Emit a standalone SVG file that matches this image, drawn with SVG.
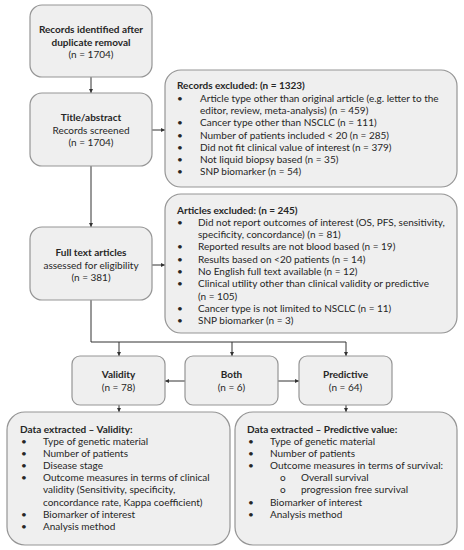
<svg xmlns="http://www.w3.org/2000/svg" width="464" height="550" viewBox="0 0 464 550">
<defs>
<marker id="ah" viewBox="0 0 6 6" refX="6" refY="3" markerWidth="4" markerHeight="4" orient="auto" markerUnits="userSpaceOnUse">
<path d="M0,0 L6,3 L0,6 z" fill="#333"/>
</marker>
<style>
.box{fill:#efefef;stroke:#959595;stroke-width:1.2}
text{font-family:Lato,"Liberation Sans",sans-serif;font-size:10px;fill:#262626}
.b{font-weight:bold}
.c{text-anchor:middle}
.ln{fill:none;stroke:#333;stroke-width:1}
.ar{fill:none;stroke:#333;stroke-width:1;marker-end:url(#ah)}
</style>
</defs>
<rect width="464" height="550" fill="#fff"/>
<g id="connectors">
<line class="ar" x1="91" y1="77" x2="91" y2="93"/>
<line class="ar" x1="152" y1="130" x2="165" y2="130"/>
<line class="ar" x1="91" y1="166" x2="91" y2="227"/>
<line class="ar" x1="152" y1="265" x2="165" y2="265"/>
<polyline class="ln" points="91,300 91,342 346,342"/>
<line class="ar" x1="119" y1="342" x2="119" y2="356"/>
<line class="ar" x1="232" y1="342" x2="232" y2="356"/>
<line class="ar" x1="346" y1="342" x2="346" y2="356"/>
<line class="ar" x1="185" y1="381" x2="165" y2="381"/>
<line class="ar" x1="278" y1="381" x2="299" y2="381"/>
<line class="ar" x1="119" y1="405" x2="119" y2="412"/>
<line class="ar" x1="346" y1="405" x2="346" y2="412"/>
</g>
<g id="identified">
<rect class="box" x="30" y="5" width="122" height="72" rx="12"/>
<text class="b c" x="91" y="33">Records identified after</text>
<text class="b c" x="91" y="46">duplicate removal</text>
<text class="c" x="91" y="58">(n = 1704)</text>
</g>
<g id="screened">
<rect class="box" x="30" y="93" width="122" height="73" rx="12"/>
<text class="b c" x="91" y="121">Title/abstract</text>
<text class="c" x="91" y="134">Records screened</text>
<text class="c" x="91" y="146">(n = 1704)</text>
</g>
<g id="fulltext">
<rect class="box" x="30" y="227" width="122" height="73" rx="12"/>
<text class="b c" x="91" y="256">Full text articles</text>
<text class="c" x="91" y="269">assessed for eligibility</text>
<text class="c" x="91" y="281">(n = 381)</text>
</g>
<g id="records-excluded">
<rect class="box" x="165" y="70" width="292" height="117" rx="16"/>
<text class="b" x="177" y="89">Records excluded: (n = 1323)</text>
<text x="177" y="102">•</text><text x="200" y="102">Article type other than original article (e.g. letter to the</text>
<text x="200" y="114.2">editor, review, meta-analysis) (n = 459)</text>
<text x="177" y="126.4">•</text><text x="200" y="126.4">Cancer type other than NSCLC (n = 111)</text>
<text x="177" y="138.6">•</text><text x="200" y="138.6">Number of patients included &lt; 20 (n = 285)</text>
<text x="177" y="150.8">•</text><text x="200" y="150.8">Did not fit clinical value of interest (n = 379)</text>
<text x="177" y="163">•</text><text x="200" y="163">Not liquid biopsy based (n = 35)</text>
<text x="177" y="175.2">•</text><text x="200" y="175.2">SNP biomarker (n = 54)</text>
</g>
<g id="articles-excluded">
<rect class="box" x="165" y="194" width="292" height="139" rx="16"/>
<text class="b" x="177" y="213.5">Articles excluded: (n = 245)</text>
<text x="177" y="225.8">•</text><text x="198" y="225.8">Did not report outcomes of interest (OS, PFS, sensitivity,</text>
<text x="198" y="238.1">specificity, concordance) (n = 81)</text>
<text x="177" y="250.4">•</text><text x="198" y="250.4">Reported results are not blood based (n = 19)</text>
<text x="177" y="262.7">•</text><text x="198" y="262.7">Results based on &lt;20 patients (n = 14)</text>
<text x="177" y="275">•</text><text x="198" y="275">No English full text available (n = 12)</text>
<text x="177" y="287.3">•</text><text x="198" y="287.3">Clinical utility other than clinical validity or predictive</text>
<text x="198" y="299.6">(n = 105)</text>
<text x="177" y="311.9">•</text><text x="198" y="311.9">Cancer type is not limited to NSCLC (n = 11)</text>
<text x="177" y="324.2">•</text><text x="198" y="324.2">SNP biomarker (n = 3)</text>
</g>
<g id="validity">
<rect class="box" x="72" y="356" width="93" height="49" rx="8"/>
<text class="b c" x="118.5" y="378">Validity</text>
<text class="c" x="118.5" y="391">(n = 78)</text>
</g>
<g id="both">
<rect class="box" x="185" y="356" width="93" height="49" rx="8"/>
<text class="b c" x="231.5" y="378">Both</text>
<text class="c" x="231.5" y="391">(n = 6)</text>
</g>
<g id="predictive">
<rect class="box" x="299" y="356" width="93" height="49" rx="8"/>
<text class="b c" x="345.5" y="378">Predictive</text>
<text class="c" x="345.5" y="391">(n = 64)</text>
</g>
<g id="data-validity">
<rect class="box" x="7" y="412" width="223" height="133" rx="18"/>
<text class="b" x="20" y="432.5">Data extracted – Validity:</text>
<text x="21" y="444.5">•</text><text x="43" y="444.5">Type of genetic material</text>
<text x="21" y="456.7">•</text><text x="43" y="456.7">Number of patients</text>
<text x="21" y="468.9">•</text><text x="43" y="468.9">Disease stage</text>
<text x="21" y="481.1">•</text><text x="43" y="481.1">Outcome measures in terms of clinical</text>
<text x="43" y="493.3">validity (Sensitivity, specificity,</text>
<text x="43" y="505.5">concordance rate, Kappa coefficient)</text>
<text x="21" y="517.7">•</text><text x="43" y="517.7">Biomarker of interest</text>
<text x="21" y="529.9">•</text><text x="43" y="529.9">Analysis method</text>
</g>
<g id="data-predictive">
<rect class="box" x="235" y="412" width="222" height="133" rx="18"/>
<text class="b" x="247" y="432.5">Data extracted – Predictive value:</text>
<text x="248" y="444.5">•</text><text x="270" y="444.5">Type of genetic material</text>
<text x="248" y="456.7">•</text><text x="270" y="456.7">Number of patients</text>
<text x="248" y="468.9">•</text><text x="270" y="468.9">Outcome measures in terms of survival:</text>
<text x="280" y="481.1">o</text><text x="301" y="481.1">Overall survival</text>
<text x="280" y="493.3">o</text><text x="301" y="493.3">progression free survival</text>
<text x="248" y="505.5">•</text><text x="270" y="505.5">Biomarker of interest</text>
<text x="248" y="517.7">•</text><text x="270" y="517.7">Analysis method</text>
</g>
</svg>
